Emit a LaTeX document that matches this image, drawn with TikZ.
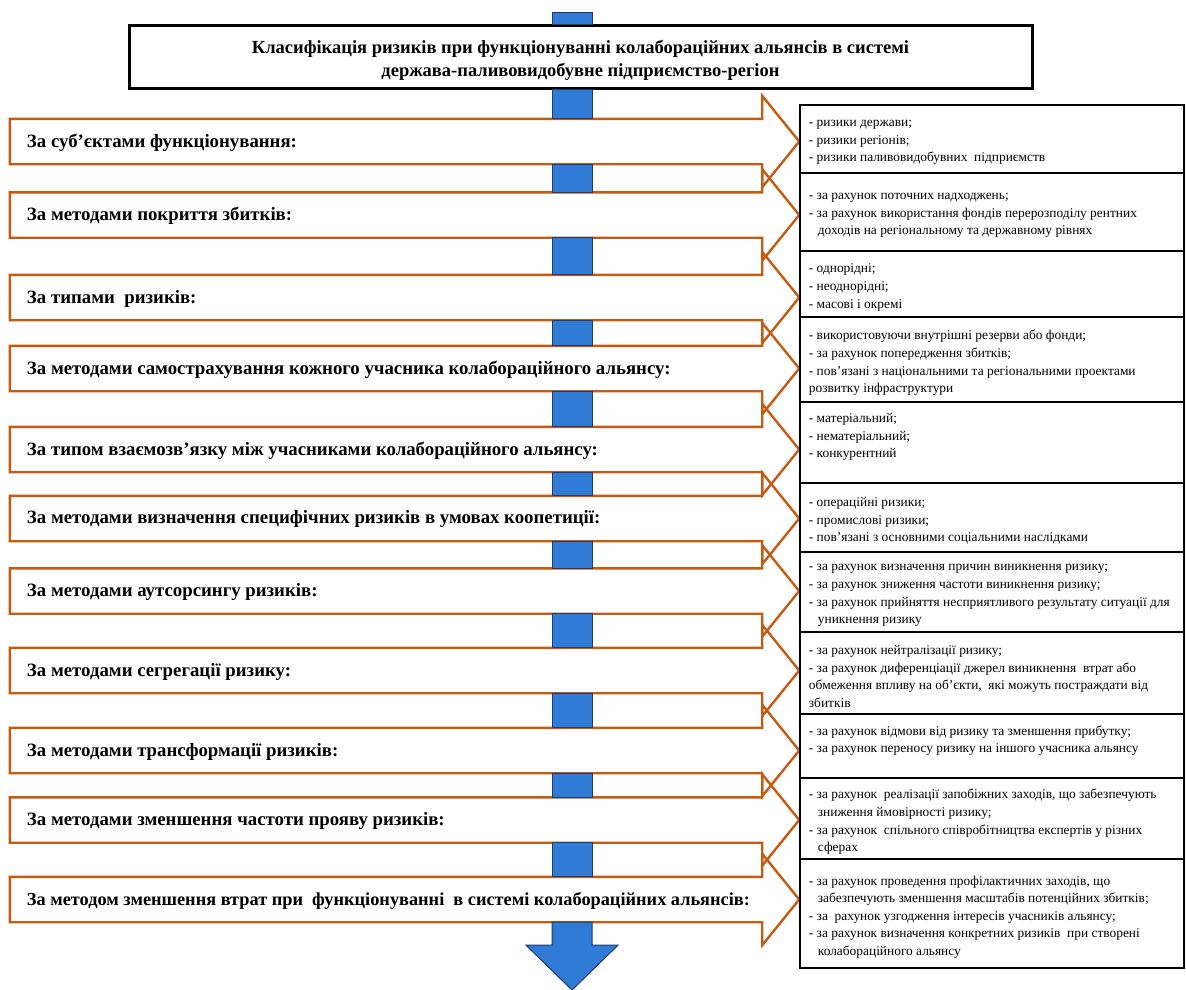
\documentclass[tikz,border=0pt]{standalone}
\usepackage{fontspec}
\setmainfont{Liberation Serif}
\usetikzlibrary{calc}
\definecolor{arrowor}{HTML}{C55A11}
\definecolor{bluef}{HTML}{2F7BD6}
\definecolor{bluel}{HTML}{1F3A6B}
\begin{document}
\begin{tikzpicture}[x=1pt,y=-1pt,
  shaft/.style={minimum width=752pt, minimum height=45pt, inner sep=0pt},
  ltext/.style={anchor=west, inner sep=0pt, xshift=17pt, yshift=-1pt, font=\bfseries\fontsize{18.8}{21}\selectfont},
  arrowline/.style={draw=arrowor, line width=2.4pt, line join=miter},
  rbox/.style={draw=black, line width=2.6pt, minimum width=384pt, inner sep=0pt},
  rtext/.style={anchor=west, inner sep=0pt, xshift=10pt, yshift=-3.5pt, align=left, font=\fontsize{13.4}{17.6}\selectfont},
  titlebox/.style={draw=black, line width=3pt, minimum width=903pt, minimum height=62pt, inner sep=0pt},
  titletext/.style={align=center, inner sep=0pt, yshift=-3pt, font=\bfseries\fontsize{18.5}{23}\selectfont},
  bluebox/.style={fill=bluef, draw=bluel, line width=1pt}]
\useasboundingbox (0,0) rectangle (1186,990);
\fill[white] (0,0) rectangle (1186,990);
\coordinate (cx) at (572,0);
\coordinate (topend) at (572,13);
\coordinate (endpt) at (572,990);

% title
\node[titlebox] (title) at (580.5,57) {};
\node[titletext] (tt) at (title.center) {Класифікація ризиків при функціонуванні колабораційних альянсів в системі\\держава-паливовидобувне підприємство-регіон};

% left arrows (shafts)
\node[shaft] (s1) at (386,141.5) {};
\node[shaft] (s2) at (386,215) {};
\node[shaft] (s3) at (386,297.5) {};
\node[shaft] (s4) at (386,368.5) {};
\node[shaft] (s5) at (386,449.5) {};
\node[shaft] (s6) at (386,518.5) {};
\node[shaft] (s7) at (386,591) {};
\node[shaft] (s8) at (386,670.5) {};
\node[shaft] (s9) at (386,750.5) {};
\node[shaft] (s10) at (386,820) {};
\node[shaft] (s11) at (386,899.5) {};

\foreach \i in {1,...,11}{
  \draw[arrowline] (s\i.north west) -- (s\i.north east) -- ++(0,-23) -- ($(s\i.east)+(37,0)$) -- ($(s\i.south east)+(0,23)$) -- (s\i.south east) -- (s\i.south west) -- cycle;
}

\node[ltext] (l1) at (s1.west) {За суб’єктами функціонування:};
\node[ltext] (l2) at (s2.west) {За методами покриття збитків:};
\node[ltext] (l3) at (s3.west) {За типами\ \ ризиків:};
\node[ltext] (l4) at (s4.west) {За методами самострахування кожного учасника колабораційного альянсу:};
\node[ltext] (l5) at (s5.west) {За типом взаємозв’язку між учасниками колабораційного альянсу:};
\node[ltext] (l6) at (s6.west) {За методами визначення специфічних ризиків в умовах коопетиції:};
\node[ltext] (l7) at (s7.west) {За методами аутсорсингу ризиків:};
\node[ltext] (l8) at (s8.west) {За методами сегрегації ризику:};
\node[ltext] (l9) at (s9.west) {За методами трансформації ризиків:};
\node[ltext] (l10) at (s10.west) {За методами зменшення частоти прояву ризиків:};
\node[ltext, font=\bfseries\fontsize{18.3}{21}\selectfont] (l11) at (s11.west) {За методом зменшення втрат при\ \ функціонуванні\ \ в системі колабораційних альянсів:};

% right boxes
\node[rbox, minimum height=68pt] (r1) at (992,139) {};
\node[rbox, minimum height=78pt] (r2) at (992,212) {};
\node[rbox, minimum height=66pt] (r3) at (992,284) {};
\node[rbox, minimum height=85pt] (r4) at (992,359.5) {};
\node[rbox, minimum height=81pt] (r5) at (992,442.5) {};
\node[rbox, minimum height=69pt] (r6) at (992,517.5) {};
\node[rbox, minimum height=80pt] (r7) at (992,592) {};
\node[rbox, minimum height=82pt] (r8) at (992,673) {};
\node[rbox, minimum height=64pt] (r9) at (992,746) {};
\node[rbox, minimum height=81pt] (r10) at (992,818.5) {};
\node[rbox, minimum height=109pt] (r11) at (992,913.5) {};

\node[rtext] (t1) at (r1.west) {- ризики держави;\\- ризики регіонів;\\- ризики паливовидобувних\ \ підприємств};
\node[rtext] (t2) at (r2.west) {- за рахунок поточних надходжень;\\- за рахунок використання фондів перерозподілу рентних\\\hspace*{9pt}доходів на регіональному та державному рівнях};
\node[rtext] (t3) at (r3.west) {- однорідні;\\- неоднорідні;\\- масові і окремі};
\node[rtext] (t4) at (r4.west) {- використовуючи внутрішні резерви\ або фонди;\\- за рахунок попередження збитків;\\- пов’язані з національними та регіональними проектами\\розвитку інфраструктури};
\node[rtext, anchor=north west, yshift=-9pt] (t5) at (r5.north west) {- матеріальний;\\- нематеріальний;\\- конкурентний};
\node[rtext] (t6) at (r6.west) {- операційні ризики;\\- промислові ризики;\\- пов’язані з основними соціальними наслідками};
\node[rtext] (t7) at (r7.west) {- за рахунок визначення причин\ виникнення ризику;\\- за рахунок зниження частоти виникнення ризику;\\- за рахунок прийняття несприятливого результату ситуації для\\\hspace*{9pt}уникнення ризику};
\node[rtext] (t8) at (r8.west) {- за рахунок нейтралізації ризику;\\- за рахунок диференціації джерел виникнення\ \ втрат або\\обмеження впливу на об’єкти,\ \ які можуть постраждати від\\збитків};
\node[rtext, anchor=north west, yshift=-9pt] (t9) at (r9.north west) {- за рахунок відмови від ризику та зменшення прибутку;\\- за рахунок переносу ризику на іншого учасника альянсу};
\node[rtext] (t10) at (r10.west) {- за рахунок\ \ реалізації запобіжних заходів, що забезпечують\\\hspace*{9pt}зниження ймовірності ризику;\\- за рахунок\ \ спільного співробітництва експертів у різних\\\hspace*{9pt}сферах};
\node[rtext] (t11) at (r11.west) {- за рахунок проведення профілактичних заходів, що\\\hspace*{9pt}забезпечують зменшення масштабів потенційних збитків;\\- за\ \ рахунок узгодження інтересів учасників альянсу;\\- за рахунок визначення конкретних ризиків\ \ при створені\\\hspace*{9pt}колабораційного альянсу};

% blue connectors
\draw[bluebox] ($(topend)+(-20,0)$) rectangle ($(title.north -| cx)+(20,0)$);
\draw[bluebox] ($(title.south -| cx)+(-20,0)$) rectangle ($(s1.north -| cx)+(20,0)$);
\foreach \i/\j in {1/2,2/3,3/4,4/5,5/6,6/7,7/8,8/9,9/10,10/11}{
  \draw[bluebox] ($(s\i.south -| cx)+(-20,0)$) rectangle ($(s\j.north -| cx)+(20,0)$);
}
\draw[bluebox] ($(s11.south -| cx)+(-20,0)$) -- ($(s11.south -| cx)+(-20,23)$) -- ($(s11.south -| cx)+(-46,23)$) -- (endpt) -- ($(s11.south -| cx)+(46,23)$) -- ($(s11.south -| cx)+(20,23)$) -- ($(s11.south -| cx)+(20,0)$) -- cycle;
\end{tikzpicture}
\end{document}
